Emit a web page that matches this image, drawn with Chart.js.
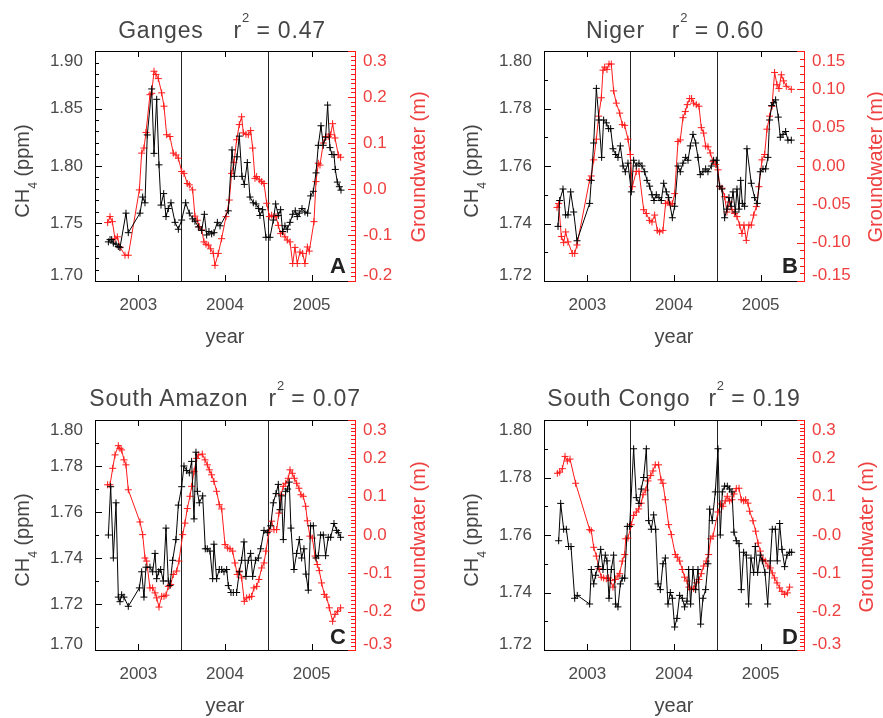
<!DOCTYPE html>
<html><head><meta charset="utf-8">
<script src="https://cdn.jsdelivr.net/npm/chart.js@4.4.1/dist/chart.umd.min.js"></script>
<style>
html,body{margin:0;padding:0;background:#fff;}
body{width:883px;height:718px;overflow:hidden;position:relative;font-family:'Liberation Sans',Arial,Helvetica,sans-serif;}
canvas{position:absolute;}
.title{position:absolute;transform:translateX(-50%);white-space:nowrap;font-size:23px;line-height:23px;letter-spacing:0.8px;color:#454545;}
.title .gap{display:inline-block;}
.title sup{font-size:13px;vertical-align:baseline;position:relative;top:-16px;letter-spacing:0;}
.vlab{position:absolute;white-space:nowrap;font-size:20px;line-height:20px;transform:translate(-50%,-50%) rotate(-90deg);}
.vlab sub{font-size:12px;vertical-align:baseline;position:relative;top:8px;}
.ch4{color:#454545;}
.gw{color:#ef4040;}
.xlab{position:absolute;transform:translateX(-50%);font-size:20px;line-height:20px;color:#454545;}
.letter{position:absolute;font-weight:bold;font-size:22px;line-height:22px;color:#222;}
</style>
</head><body>
<canvas id="cA"></canvas><canvas id="cB"></canvas><canvas id="cC"></canvas><canvas id="cD"></canvas>

<div class="title" style="left:222px;top:19px">Ganges<span class="gap" style="width:30px"></span>r<sup>2</sup> = 0.47</div>
<div class="title" style="left:675px;top:19px">Niger<span class="gap" style="width:27px"></span>r<sup>2</sup> = 0.60</div>
<div class="title" style="left:225px;top:387px">South Amazon<span class="gap" style="width:20px"></span>r<sup>2</sup> = 0.07</div>
<div class="title" style="left:674px;top:387px">South Congo<span class="gap" style="width:18px"></span>r<sup>2</sup> = 0.19</div>

<div class="vlab ch4" style="left:23px;top:171px">CH<sub>4</sub> (ppm)</div>
<div class="vlab ch4" style="left:472px;top:171px">CH<sub>4</sub> (ppm)</div>
<div class="vlab ch4" style="left:23px;top:540px">CH<sub>4</sub> (ppm)</div>
<div class="vlab ch4" style="left:472px;top:540px">CH<sub>4</sub> (ppm)</div>

<div class="vlab gw" style="left:418px;top:167px">Groundwater (m)</div>
<div class="vlab gw" style="left:875px;top:167px">Groundwater (m)</div>
<div class="vlab gw" style="left:418px;top:537px">Groundwater (m)</div>
<div class="vlab gw" style="left:866px;top:537px">Groundwater (m)</div>

<div class="xlab" style="left:225px;top:326px">year</div>
<div class="xlab" style="left:674px;top:326px">year</div>
<div class="xlab" style="left:225px;top:695px">year</div>
<div class="xlab" style="left:674px;top:695px">year</div>

<div class="letter" style="left:330px;top:255px">A</div>
<div class="letter" style="left:782px;top:255px">B</div>
<div class="letter" style="left:330px;top:626px">C</div>
<div class="letter" style="left:782px;top:626px">D</div>

<script>
// ---- x axis: months since Jan 2003 ----
const xGridMonths = [0, 6, 12, 18, 24, 30, 36];
const xTickMonths = [6, 18, 30];
const xTickLabels = ['2003', '2004', '2005'];
const yearBoundaryMonths = [12, 24];

// ---- Ganges ----
const gangesCH4Month = [1.85,2.08,2.31,2.54,2.91,3.23,3.46,4.29,4.61,6.23,6.60,6.92,7.24,7.85,8.17,8.54,8.86,9.14,9.51,9.83,10.15,10.52,11.08,11.54,12.00,12.55,13.06,13.52,13.84,14.31,14.77,15.14,15.46,15.78,16.15,16.47,16.94,17.31,18.46,18.97,19.29,19.66,19.98,20.35,20.67,21.09,21.46,21.92,22.29,22.66,22.84,23.21,23.67,24.23,24.69,25.01,25.38,25.70,25.98,26.30,26.63,27.00,27.37,27.73,28.01,28.29,28.66,29.07,29.44,29.86,30.23,30.60,30.92,31.29,31.61,31.93,32.21,32.53,32.81,33.09,33.27,33.55,33.83,34.06];
const gangesCH4 = [1.734,1.736,1.736,1.733,1.732,1.730,1.729,1.759,1.742,1.759,1.773,1.768,1.827,1.867,1.811,1.858,1.801,1.766,1.776,1.756,1.763,1.768,1.751,1.745,1.753,1.768,1.759,1.754,1.752,1.747,1.744,1.758,1.740,1.743,1.741,1.742,1.751,1.748,1.761,1.814,1.791,1.808,1.826,1.791,1.784,1.803,1.773,1.768,1.767,1.763,1.757,1.762,1.738,1.738,1.753,1.767,1.757,1.762,1.743,1.748,1.745,1.751,1.758,1.761,1.756,1.759,1.763,1.760,1.759,1.774,1.778,1.794,1.818,1.835,1.818,1.825,1.853,1.816,1.810,1.810,1.797,1.786,1.782,1.779];
const gangesGWMonth = [1.75,2.08,2.40,2.77,3.09,3.46,4.15,4.61,6.14,6.46,6.78,7.06,7.61,7.85,8.17,8.44,8.77,9.23,9.55,9.92,10.38,10.84,11.21,11.54,12.00,12.32,12.78,13.06,13.52,13.84,14.17,14.44,14.77,15.09,15.37,15.69,16.01,16.38,16.61,17.07,17.53,18.14,18.60,18.92,19.24,19.61,19.98,20.30,20.54,20.90,21.23,21.55,21.83,22.15,22.38,22.75,23.07,23.40,23.77,24.14,24.46,24.78,25.06,25.38,25.70,25.98,26.30,26.63,27.00,27.37,27.69,28.01,28.38,28.75,29.07,29.40,29.67,30.32,30.60,30.92,31.15,31.61,31.98,32.30,32.63,32.90,33.23,33.69,34.01];
const gangesGW = [-0.073,-0.060,-0.071,-0.108,-0.104,-0.126,-0.144,-0.144,-0.002,0.078,0.089,0.123,0.205,0.208,0.256,0.249,0.240,0.209,0.180,0.118,0.114,0.078,0.074,0.067,0.038,0.034,0.012,0.009,-0.002,-0.059,-0.068,-0.082,-0.089,-0.115,-0.120,-0.122,-0.130,-0.140,-0.166,-0.140,-0.108,-0.060,-0.024,0.034,0.058,0.107,0.140,0.157,0.122,0.119,0.118,0.127,0.089,0.023,0.027,0.020,0.016,0.012,-0.031,-0.060,-0.057,-0.060,-0.060,-0.079,-0.097,-0.093,-0.104,-0.111,-0.115,-0.162,-0.127,-0.162,-0.137,-0.140,-0.162,-0.126,-0.135,-0.071,0.016,0.056,0.052,0.100,0.114,0.114,0.118,0.142,0.111,0.074,0.069];
const gangesLeftTicks = [1.70, 1.75, 1.80, 1.85, 1.90];
const gangesLeftLabels = ['1.70', '1.75', '1.80', '1.85', '1.90'];
const gangesRightTicks = [-0.2, -0.1, 0.0, 0.1, 0.2, 0.3];
const gangesRightLabels = ['-0.2', '-0.1', '0.0', '0.1', '0.2', '0.3'];

// ---- Niger ----
const nigerCH4Month = [1.94,2.17,2.63,3.00,3.32,3.69,4.11,4.57,6.32,6.55,6.88,7.25,7.61,7.98,8.26,8.63,8.95,9.23,9.55,9.92,10.24,10.57,10.94,11.26,11.63,12.09,12.41,12.78,13.15,13.57,13.94,14.26,14.63,14.95,15.23,15.55,15.92,16.24,16.57,16.94,17.26,17.77,18.09,18.55,18.87,19.24,19.61,19.94,20.26,20.63,21.00,21.32,21.64,22.01,22.38,22.70,23.17,23.49,23.86,24.32,24.64,25.01,25.33,25.61,25.89,26.17,26.49,26.72,27.00,27.23,27.46,27.78,28.10,28.70,29.16,29.53,29.95,30.32,30.69,31.01,31.24,31.52,31.80,32.07,32.44,32.72,33.09,33.46,33.78,34.24];
const nigerCH4 = [1.739,1.748,1.752,1.743,1.743,1.751,1.744,1.734,1.747,1.755,1.768,1.787,1.776,1.763,1.776,1.775,1.773,1.773,1.766,1.764,1.763,1.767,1.760,1.758,1.761,1.751,1.762,1.760,1.761,1.760,1.758,1.755,1.753,1.750,1.748,1.750,1.749,1.748,1.754,1.751,1.749,1.742,1.746,1.760,1.758,1.761,1.763,1.762,1.767,1.771,1.768,1.763,1.757,1.758,1.759,1.758,1.760,1.762,1.762,1.753,1.752,1.742,1.745,1.749,1.746,1.751,1.744,1.752,1.745,1.755,1.747,1.746,1.766,1.754,1.749,1.747,1.758,1.759,1.759,1.763,1.776,1.781,1.782,1.783,1.777,1.770,1.771,1.772,1.769,1.769];
const nigerGWMonth = [1.80,2.03,2.40,2.72,3.00,3.32,3.92,4.25,4.57,6.32,6.55,6.88,7.25,7.57,7.94,8.17,8.40,8.72,9.00,9.32,9.64,10.01,10.48,10.84,11.17,11.63,11.95,12.23,12.78,13.15,13.80,14.17,14.63,14.95,15.32,15.69,16.01,16.47,16.84,17.17,17.49,17.77,18.09,18.55,18.87,19.24,19.57,19.84,20.17,20.44,20.72,21.09,21.46,21.78,22.10,22.38,22.70,23.03,23.40,23.77,24.09,24.32,24.64,25.01,25.33,25.70,26.03,26.40,26.72,27.09,27.41,27.69,28.01,28.38,28.70,29.03,29.40,29.76,30.18,30.55,30.87,31.24,31.57,31.93,32.26,32.53,32.86,33.18,33.55,34.24];
const nigerGW = [-0.054,-0.049,-0.092,-0.100,-0.086,-0.099,-0.114,-0.114,-0.103,-0.018,-0.013,0.008,0.035,0.065,0.089,0.125,0.129,0.126,0.133,0.133,0.098,0.082,0.069,0.054,0.053,0.035,0.015,-0.027,-0.007,-0.007,-0.057,-0.062,-0.071,-0.073,-0.064,-0.084,-0.086,-0.084,-0.049,-0.047,-0.051,-0.049,-0.036,0.032,0.034,0.063,0.071,0.080,0.088,0.088,0.082,0.080,0.078,0.050,0.043,0.026,0.025,0.017,0.006,0.002,-0.005,-0.027,-0.029,-0.040,-0.060,-0.047,-0.057,-0.062,-0.066,-0.077,-0.088,-0.077,-0.097,-0.077,-0.077,-0.064,-0.053,-0.027,0.008,0.015,0.048,0.065,0.078,0.122,0.106,0.101,0.119,0.111,0.104,0.100];
const nigerLeftTicks = [1.72, 1.74, 1.76, 1.78, 1.80];
const nigerLeftLabels = ['1.72', '1.74', '1.76', '1.78', '1.80'];
const nigerRightTicks = [-0.15, -0.10, -0.05, 0.00, 0.05, 0.10, 0.15];
const nigerRightLabels = ['-0.15', '-0.10', '-0.05', '0.00', '0.05', '0.10', '0.15'];

// ---- South Amazon ----
const amazonCH4Month = [1.85,2.17,2.54,2.91,3.23,3.46,3.69,4.01,4.61,6.14,6.46,6.78,7.06,7.61,7.98,8.31,8.54,8.81,9.09,9.46,9.83,10.15,10.38,10.75,11.21,11.54,12.00,12.32,12.69,13.06,13.38,13.71,13.98,14.17,14.44,14.91,15.27,15.55,15.92,16.29,16.47,16.84,17.21,17.54,17.86,18.23,18.46,18.83,19.15,19.61,19.98,20.30,20.63,20.90,21.23,21.55,21.83,22.24,22.61,22.94,23.40,23.86,24.32,24.69,25.06,25.38,25.61,25.84,26.07,26.40,26.67,26.90,27.13,27.55,27.92,28.29,28.61,28.93,29.21,29.53,29.86,30.23,30.60,30.92,31.24,31.61,31.93,32.30,32.63,33.09,33.46,33.69,34.01];
const amazonCH4 = [1.750,1.771,1.740,1.764,1.723,1.721,1.724,1.723,1.719,1.727,1.734,1.723,1.736,1.736,1.734,1.742,1.731,1.734,1.735,1.730,1.753,1.730,1.728,1.739,1.748,1.763,1.771,1.780,1.778,1.777,1.782,1.757,1.786,1.769,1.764,1.767,1.744,1.744,1.743,1.731,1.746,1.731,1.735,1.735,1.734,1.735,1.728,1.725,1.725,1.725,1.734,1.739,1.747,1.732,1.739,1.742,1.732,1.739,1.740,1.744,1.752,1.751,1.754,1.764,1.768,1.772,1.761,1.767,1.748,1.769,1.770,1.773,1.753,1.735,1.742,1.748,1.740,1.744,1.733,1.726,1.754,1.754,1.740,1.741,1.750,1.750,1.741,1.749,1.749,1.755,1.752,1.751,1.749];
const amazonGWMonth = [1.75,2.08,2.45,2.77,3.23,3.46,3.69,4.01,4.29,4.61,6.23,6.60,6.92,7.15,7.61,7.98,8.31,8.54,8.86,9.23,9.55,9.83,10.15,10.48,10.84,11.31,11.63,12.14,12.46,12.78,13.15,13.38,13.71,14.08,14.31,14.86,15.23,15.55,15.83,16.15,16.47,16.84,17.21,17.54,18.00,18.37,18.69,19.06,19.38,19.70,19.98,20.30,20.67,21.00,21.37,21.69,22.01,22.38,22.70,23.07,23.40,23.67,24.09,24.46,24.78,25.15,25.47,25.75,26.07,26.40,26.76,27.00,27.32,27.60,27.92,28.24,28.52,28.84,29.17,29.40,29.76,30.09,30.46,30.78,31.06,31.38,31.75,32.07,32.44,32.90,33.23,33.60,34.01];
const amazonGW = [0.131,0.131,0.174,0.209,0.233,0.226,0.222,0.196,0.183,0.118,0.034,0.001,-0.060,-0.068,-0.138,-0.138,-0.151,-0.164,-0.188,-0.160,-0.160,-0.157,-0.134,-0.129,-0.103,-0.094,-0.068,0.001,0.031,0.069,0.101,0.127,0.166,0.200,0.209,0.211,0.196,0.183,0.170,0.157,0.140,0.114,0.079,0.068,-0.025,-0.034,-0.036,-0.042,-0.073,-0.103,-0.094,-0.112,-0.173,-0.164,-0.162,-0.160,-0.138,-0.134,-0.116,-0.086,-0.073,-0.042,0.010,0.036,0.014,0.014,0.057,0.105,0.127,0.135,0.148,0.170,0.161,0.148,0.135,0.122,0.105,0.101,0.075,0.037,-0.003,-0.008,-0.055,-0.077,-0.093,-0.125,-0.155,-0.162,-0.190,-0.225,-0.207,-0.199,-0.190];
const amazonLeftTicks = [1.70, 1.72, 1.74, 1.76, 1.78, 1.80];
const amazonLeftLabels = ['1.70', '1.72', '1.74', '1.76', '1.78', '1.80'];
const amazonRightTicks = [-0.3, -0.2, -0.1, 0.0, 0.1, 0.2, 0.3];
const amazonRightLabels = ['-0.3', '-0.2', '-0.1', '0.0', '0.1', '0.2', '0.3'];

// ---- South Congo ----
const congoCH4Month = [2.03,2.31,2.72,3.09,3.41,3.74,4.25,4.61,6.32,6.55,6.88,7.15,7.48,7.85,8.17,8.49,8.72,9.00,9.32,9.64,9.92,10.24,10.57,10.84,11.17,11.54,11.86,12.41,12.78,13.15,13.47,13.80,14.17,14.49,14.86,15.18,15.46,15.78,16.11,16.47,16.80,17.17,17.49,17.77,18.09,18.41,18.78,19.15,19.47,19.80,20.03,20.30,20.63,21.00,21.32,21.69,22.01,22.38,22.70,22.94,23.30,23.72,24.09,24.41,24.69,25.01,25.38,25.70,26.03,26.30,26.63,27.00,27.32,27.64,28.01,28.33,28.66,29.03,29.26,29.58,29.95,30.23,30.60,30.97,31.33,31.61,32.03,32.30,32.63,32.95,33.32,33.64,34.01,34.29];
const congoCH4 = [1.758,1.771,1.762,1.762,1.756,1.756,1.738,1.739,1.736,1.748,1.743,1.746,1.749,1.755,1.748,1.753,1.751,1.738,1.748,1.753,1.736,1.735,1.743,1.745,1.745,1.763,1.763,1.790,1.773,1.771,1.776,1.780,1.790,1.765,1.762,1.767,1.762,1.743,1.741,1.750,1.752,1.736,1.740,1.738,1.728,1.731,1.739,1.738,1.735,1.737,1.748,1.736,1.748,1.741,1.748,1.729,1.738,1.741,1.750,1.769,1.765,1.775,1.790,1.760,1.775,1.777,1.777,1.776,1.775,1.761,1.758,1.757,1.741,1.754,1.753,1.736,1.752,1.747,1.756,1.747,1.753,1.751,1.747,1.736,1.751,1.762,1.762,1.751,1.764,1.755,1.749,1.753,1.754,1.754];
const congoGWMonth = [1.85,2.17,2.54,2.91,3.23,3.60,4.38,6.32,6.55,6.88,7.25,7.61,7.94,8.26,8.63,8.95,9.18,9.55,9.88,10.24,10.48,10.84,11.17,11.31,11.63,12.09,12.41,12.78,13.11,13.47,13.71,14.08,14.40,14.77,15.09,15.41,15.87,16.20,16.47,16.80,17.26,17.63,18.18,18.46,18.78,19.15,19.47,19.80,20.07,20.40,20.72,21.09,21.46,21.78,22.10,22.47,22.80,23.07,23.40,24.09,24.46,24.78,25.10,25.38,25.70,26.03,26.30,26.63,27.00,27.32,27.64,27.92,28.24,28.47,28.93,29.30,29.63,29.95,30.32,30.64,31.01,31.33,31.61,31.93,32.26,32.63,32.95,33.32,33.69,34.01];
const congoGW = [0.161,0.164,0.173,0.205,0.193,0.198,0.135,0.014,0.011,-0.032,-0.055,-0.088,-0.110,-0.112,-0.114,-0.112,-0.119,-0.136,-0.116,-0.107,-0.101,-0.068,-0.051,-0.010,-0.008,0.027,0.051,0.060,0.068,0.083,0.105,0.117,0.141,0.155,0.167,0.183,0.183,0.144,0.135,0.092,0.027,0.001,-0.051,-0.058,-0.068,-0.090,-0.110,-0.120,-0.136,-0.142,-0.140,-0.125,-0.116,-0.101,-0.081,-0.068,-0.051,-0.010,-0.003,0.060,0.081,0.075,0.089,0.101,0.089,0.092,0.107,0.121,0.122,0.092,0.089,0.092,0.083,0.062,0.037,0.010,-0.021,-0.042,-0.064,-0.068,-0.081,-0.086,-0.099,-0.112,-0.125,-0.138,-0.147,-0.155,-0.151,-0.136];
const congoLeftTicks = [1.72, 1.74, 1.76, 1.78, 1.80];
const congoLeftLabels = ['1.72', '1.74', '1.76', '1.78', '1.80'];
const congoRightTicks = [-0.3, -0.2, -0.1, 0.0, 0.1, 0.2, 0.3];
const congoRightLabels = ['-0.3', '-0.2', '-0.1', '-0.0', '0.1', '0.2', '0.3'];

// ---- layout ----
const PLOT_W = 260, PLOT_H = 230, AX_W = 80, TOP_H = 10, BOT_H = 60;
const FAM = "'Liberation Sans', Arial, Helvetica, sans-serif";
const GRAY = '#4a4a4a', RED_TXT = '#ef4040', RED = '#ff1a1a';

const idlTicks = {
  id: 'idlTicks',
  afterDraw(chart, args, o) {
    const ctx = chart.ctx, a = chart.chartArea;
    const vert = (scale, minor, major, side, color) => {
      ctx.save(); ctx.strokeStyle = color; ctx.lineWidth = 1;
      const n = Math.round((scale.max - scale.min) / minor);
      for (let k = 0; k <= n; k++) {
        const v = scale.min + k * minor;
        const r = (v - scale.min) / major;
        const isMajor = Math.abs(r - Math.round(r)) < 1e-6;
        const len = isMajor ? 7 : 4;
        const y = Math.round(scale.getPixelForValue(v)) + 0.5;
        ctx.beginPath();
        if (side === 'left') { ctx.moveTo(a.left, y); ctx.lineTo(a.left + len, y); }
        else { ctx.moveTo(a.right, y); ctx.lineTo(a.right - len, y); }
        ctx.stroke();
      }
      ctx.restore();
    };
    vert(chart.scales.y, o.leftMinor, o.leftMajor, 'left', '#000');
    vert(chart.scales.y2, o.rightMinor, o.rightMajor, 'right', RED);
    const xs = chart.scales.x;
    ctx.save(); ctx.strokeStyle = '#000'; ctx.lineWidth = 1;
    xTickMonths.forEach(v => {
      const x = Math.round(xs.getPixelForValue(v)) + 0.5;
      ctx.beginPath();
      ctx.moveTo(x, a.bottom); ctx.lineTo(x, a.bottom - 6);
      ctx.moveTo(x, a.top); ctx.lineTo(x, a.top + 6);
      ctx.stroke();
    });
    ctx.restore();
  }
};

function zeroPad(s) { s.paddingTop = 0; s.paddingBottom = 0; s.paddingLeft = 0; s.paddingRight = 0; }

function edgeLabel(label, index, count) {
  if (index === 0) return [label, ''];
  if (index === count - 1) return ['', label];
  return label;
}
function edgeFont(size) {
  return (c) => {
    const n = c.scale && c.scale.ticks ? c.scale.ticks.length : 0;
    let lh = 1.2;
    if (c.index === 0) lh = '12px';
    else if (c.index === n - 1) lh = '21px';
    return { family: FAM, size: size, lineHeight: lh };
  };
}

function yScale(pos, min, max, tickVals, tickLabels, color, borderColor, pad) {
  return {
    type: 'linear', position: pos, min: min, max: max,
    afterBuildTicks: s => { s.ticks = tickVals.map(v => ({ value: v })); },
    afterFit: s => { s.width = AX_W; zeroPad(s); },
    grid: { display: true, drawOnChartArea: false, drawTicks: false },
    border: { display: true, color: borderColor, width: 1 },
    ticks: {
      padding: pad, color: color, font: edgeFont(17), autoSkip: false,
      callback: (v, i, arr) => edgeLabel(tickLabels[i], i, arr.length)
    }
  };
}

function buildPanel(p) {
  const cv = document.getElementById(p.id);
  cv.width = PLOT_W + 2 * AX_W; cv.height = PLOT_H + TOP_H + BOT_H;
  cv.style.width = cv.width + 'px'; cv.style.height = cv.height + 'px';
  cv.style.left = (p.left - AX_W) + 'px'; cv.style.top = (p.top - TOP_H) + 'px';
  const pts = (xs, ys) => xs.map((m, i) => ({ x: m, y: ys[i] }));
  new Chart(cv, {
    type: 'line',
    data: {
      datasets: [
        { label: 'CH4 (ppm)', data: pts(p.ch4Month, p.ch4), yAxisID: 'y', xAxisID: 'x',
          borderColor: '#000', backgroundColor: '#000', borderWidth: 1, tension: 0, fill: false,
          pointStyle: 'cross', pointRadius: 3.5, pointBorderWidth: 1, pointBorderColor: '#000', pointHoverRadius: 3.5 },
        { label: 'Groundwater (m)', data: pts(p.gwMonth, p.gw), yAxisID: 'y2', xAxisID: 'x',
          borderColor: RED, backgroundColor: RED, borderWidth: 1, tension: 0, fill: false,
          pointStyle: 'cross', pointRadius: 3.5, pointBorderWidth: 1, pointBorderColor: RED, pointHoverRadius: 3.5 }
      ]
    },
    options: {
      responsive: false, animation: false, devicePixelRatio: 1,
      layout: { padding: 0, autoPadding: false },
      plugins: { legend: { display: false }, tooltip: { enabled: false },
        idlTicks: { leftMinor: p.leftMinor, leftMajor: p.leftMajor, rightMinor: p.rightMinor, rightMajor: p.rightMajor } },
      scales: {
        x: {
          type: 'linear', position: 'bottom', min: 0, max: 36,
          afterBuildTicks: s => { s.ticks = xGridMonths.map(v => ({ value: v })); },
          afterFit: s => { s.height = BOT_H; zeroPad(s); },
          grid: { display: true, drawOnChartArea: true, drawTicks: false, lineWidth: 1,
            color: c => (c.tick && yearBoundaryMonths.includes(c.tick.value)) ? '#222' : 'rgba(0,0,0,0)' },
          border: { display: true, color: '#000', width: 1 },
          ticks: { padding: 14, color: GRAY, font: { family: FAM, size: 17 }, maxRotation: 0, autoSkip: false,
            callback: v => { const i = xTickMonths.indexOf(v); return i >= 0 ? xTickLabels[i] : ''; } }
        },
        xTop: {
          type: 'linear', position: 'top', min: 0, max: 36,
          afterFit: s => { s.height = TOP_H; zeroPad(s); },
          grid: { display: true, drawOnChartArea: false, drawTicks: false },
          border: { display: true, color: '#000', width: 1 },
          ticks: { display: false }
        },
        y: yScale('left', p.yMin, p.yMax, p.leftTicks, p.leftLabels, GRAY, '#000', 12),
        y2: yScale('right', p.y2Min, p.y2Max, p.rightTicks, p.rightLabels, RED_TXT, RED, 8)
      }
    },
    plugins: [idlTicks]
  });
}

buildPanel({ id: 'cA', left: 95, top: 51, ch4Month: gangesCH4Month, ch4: gangesCH4, gwMonth: gangesGWMonth, gw: gangesGW,
  yMin: 1.70, yMax: 1.90, leftTicks: gangesLeftTicks, leftLabels: gangesLeftLabels, leftMinor: 0.01, leftMajor: 0.05,
  y2Min: -0.2, y2Max: 0.3, rightTicks: gangesRightTicks, rightLabels: gangesRightLabels, rightMinor: 0.01, rightMajor: 0.1 });
buildPanel({ id: 'cB', left: 544, top: 51, ch4Month: nigerCH4Month, ch4: nigerCH4, gwMonth: nigerGWMonth, gw: nigerGW,
  yMin: 1.72, yMax: 1.80, leftTicks: nigerLeftTicks, leftLabels: nigerLeftLabels, leftMinor: 0.01, leftMajor: 0.02,
  y2Min: -0.15, y2Max: 0.15, rightTicks: nigerRightTicks, rightLabels: nigerRightLabels, rightMinor: 0.01, rightMajor: 0.05 });
buildPanel({ id: 'cC', left: 95, top: 420, ch4Month: amazonCH4Month, ch4: amazonCH4, gwMonth: amazonGWMonth, gw: amazonGW,
  yMin: 1.70, yMax: 1.80, leftTicks: amazonLeftTicks, leftLabels: amazonLeftLabels, leftMinor: 0.01, leftMajor: 0.02,
  y2Min: -0.3, y2Max: 0.3, rightTicks: amazonRightTicks, rightLabels: amazonRightLabels, rightMinor: 0.01, rightMajor: 0.1 });
buildPanel({ id: 'cD', left: 544, top: 420, ch4Month: congoCH4Month, ch4: congoCH4, gwMonth: congoGWMonth, gw: congoGW,
  yMin: 1.72, yMax: 1.80, leftTicks: congoLeftTicks, leftLabels: congoLeftLabels, leftMinor: 0.01, leftMajor: 0.02,
  y2Min: -0.3, y2Max: 0.3, rightTicks: congoRightTicks, rightLabels: congoRightLabels, rightMinor: 0.01, rightMajor: 0.1 });
</script>
</body></html>
